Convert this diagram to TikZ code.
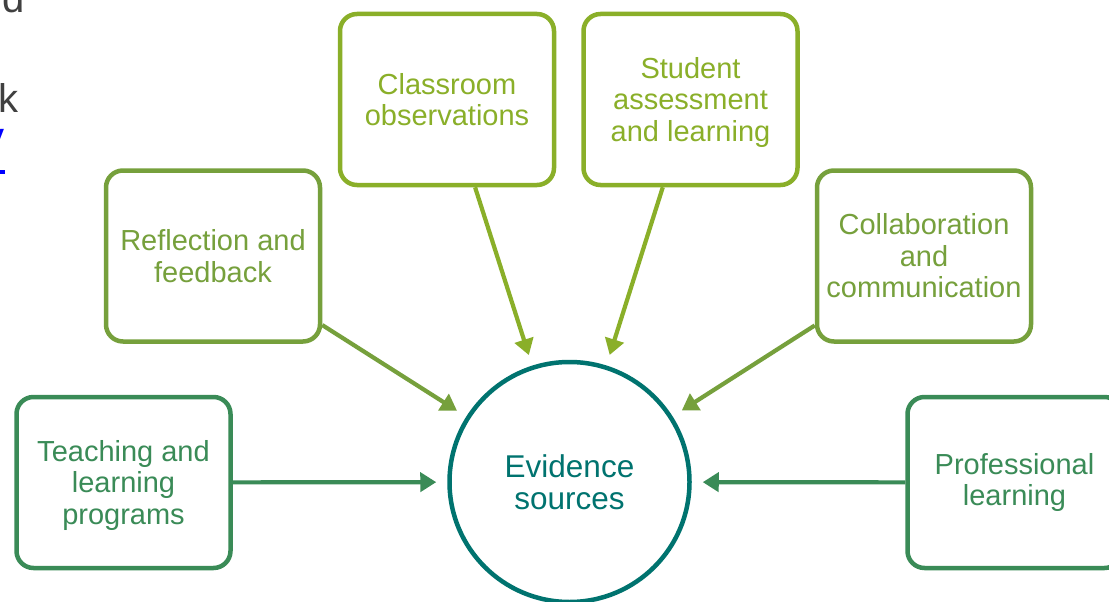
\documentclass[tikz,border=0pt]{standalone}
\usepackage{fontspec}
\setmainfont{Liberation Sans}
\usetikzlibrary{arrows.meta}
\definecolor{lime}{HTML}{8AAF29}
\definecolor{olive}{HTML}{76A03C}
\definecolor{grn}{HTML}{3A8B57}
\definecolor{teal}{HTML}{00736F}
\definecolor{frag}{HTML}{404040}
\definecolor{linkblue}{HTML}{0000FF}
\newcommand{\droplines}[1]{\raisebox{-4pt}[\height][\depth]{\begin{tabular}{@{}c@{}}#1\end{tabular}}}
\tikzset{
  srcbox/.style={draw=#1, text=#1, line width=4.5pt, rounded corners=17pt,
    minimum width=214pt, minimum height=171pt, align=center, fill=white,
    inner sep=0pt, font=\fontsize{29}{31.5}\selectfont},
  hub/.style={draw=teal, text=teal, line width=4.5pt, circle, minimum size=240pt,
    align=center, inner sep=0pt, font=\fontsize{31.5}{32.5}\selectfont},
  feed/.style={draw=#1, line width=4.2pt,
    -{Triangle[length=16pt,width=19pt]}, shorten >=11pt},
  fragtxt/.style={inner sep=0pt, font=\fontsize{40}{44}\selectfont}
}
\begin{document}
\begin{tikzpicture}[x=1pt,y=-1pt]
\useasboundingbox (0,0) rectangle (1109,602);
\clip (0,0) rectangle (1109,602);
\fill[white] (0,0) rectangle (1109,602);
% cut-off text fragments at the left edge
\node[fragtxt, text=frag, anchor=base east] (fd) at (25,13) {d};
\node[fragtxt, text=frag, anchor=base east] (fk) at (19,113) {k};
\node[fragtxt, text=linkblue, anchor=base east] (fy) at (5,150) {y};
\fill[linkblue] (0,170) rectangle (5,174);
% nodes
\node[hub] (ev) at (569.5,482) {Evidence\\sources};
\node[srcbox=lime] (cls) at (447,99.5) {Classroom\\observations};
\node[srcbox=lime] (stu) at (690.5,99.5) {\droplines{Student\\assessment\\and learning}};
\node[srcbox=olive] (ref) at (213,256) {Reflection and\\feedback};
\node[srcbox=olive] (col) at (924,256) {Collaboration\\and\\communication};
\node[srcbox=grn] (tea) at (123.5,482.5) {\droplines{Teaching and\\learning\\programs}};
\node[srcbox=grn] (pro) at (1014.5,482.5) {Professional\\learning};
% connectors
\draw[feed=lime] (cls) -- (ev);
\draw[feed=lime] (stu) -- (ev);
\draw[feed=olive] (ref) -- (ev);
\draw[feed=olive] (col) -- (ev);
\draw[feed=grn] (tea) -- (ev);
\draw[feed=grn] (pro) -- (ev);
\end{tikzpicture}
\end{document}
